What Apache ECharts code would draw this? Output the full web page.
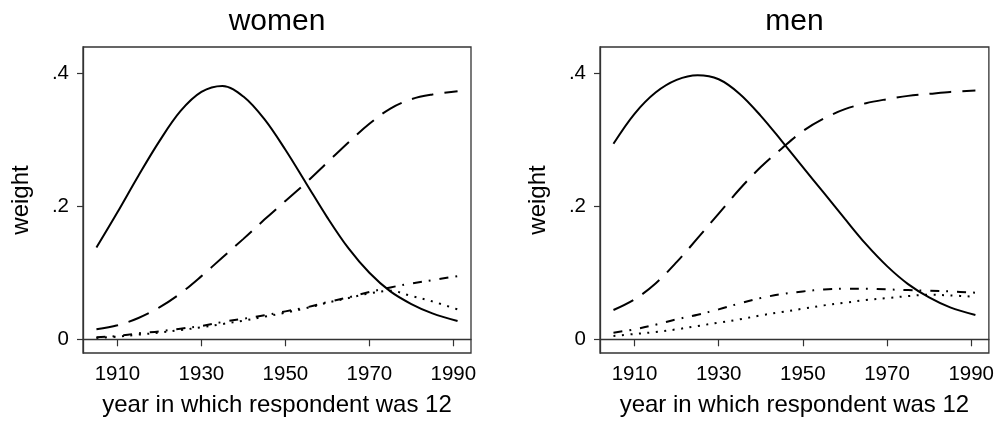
<!DOCTYPE html>
<html>
<head>
<meta charset="utf-8">
<script src="https://cdn.jsdelivr.net/npm/echarts@6/dist/echarts.min.js"></script>
<style>
  html, body { margin: 0; padding: 0; background: #fff; }
  #chart { width: 997px; height: 423px; }
</style>
</head>
<body>
<div id="chart"></div>
<script>
// year in which respondent was 12
var years = [1905, 1910, 1915, 1920, 1925, 1930, 1935, 1940, 1945, 1950, 1955, 1960, 1965, 1970, 1975, 1980, 1985, 1991]
var xTicks = [1910, 1930, 1950, 1970, 1990]
var yTicks = [0, 0.2, 0.4]
var panelTitles = ['women', 'men']

// women
var womenSolid = [0.138, 0.191, 0.246, 0.298, 0.343, 0.372, 0.381, 0.365, 0.331, 0.285, 0.234, 0.183, 0.137, 0.100, 0.072, 0.053, 0.039, 0.0275]
var womenDash = [0.015, 0.021, 0.032, 0.048, 0.069, 0.095, 0.123, 0.151, 0.180, 0.208, 0.236, 0.266, 0.296, 0.324, 0.347, 0.361, 0.368, 0.373]
var womenDashDot = [0.003, 0.005, 0.009, 0.012, 0.016, 0.020, 0.026, 0.031, 0.036, 0.042, 0.048, 0.056, 0.063, 0.071, 0.078, 0.084, 0.089, 0.095]
var womenDot = [0.002, 0.004, 0.007, 0.010, 0.014, 0.018, 0.023, 0.028, 0.034, 0.040, 0.047, 0.055, 0.062, 0.069, 0.073, 0.065, 0.057, 0.045]

// men
var menSolid = [0.294, 0.339, 0.371, 0.390, 0.397, 0.391, 0.369, 0.336, 0.298, 0.259, 0.220, 0.181, 0.143, 0.110, 0.083, 0.063, 0.048, 0.0365]
var menDash = [0.044, 0.060, 0.084, 0.116, 0.152, 0.189, 0.226, 0.259, 0.287, 0.313, 0.332, 0.346, 0.355, 0.361, 0.366, 0.369, 0.372, 0.374]
var menDashDot = [0.010, 0.015, 0.022, 0.030, 0.037, 0.045, 0.054, 0.062, 0.068, 0.072, 0.075, 0.076, 0.076, 0.075, 0.074, 0.073, 0.072, 0.070]
var menDot = [0.005, 0.008, 0.011, 0.015, 0.020, 0.025, 0.030, 0.036, 0.041, 0.046, 0.051, 0.055, 0.059, 0.062, 0.065, 0.067, 0.066, 0.064]

var font = '"Liberation Sans", Arial, sans-serif'
var boxColor = '#333'

function pairs(vals) {
  return years.map(function (y, i) { return [y, vals[i]] })
}

// one series per line; dash patterns
function line(idx, vals, dash) {
  return {
    type: 'line',
    xAxisIndex: idx,
    yAxisIndex: idx,
    data: pairs(vals),
    smooth: 0.35,
    showSymbol: false,
    silent: true,
    lineStyle: { color: '#000', width: 2, type: dash }
  }
}

var grids = [
  { left: 83, top: 47, width: 388, height: 306 },
  { left: 600, top: 47, width: 389, height: 306 }
]

var xAxes = grids.map(function (g, i) {
  return {
    type: 'value',
    gridIndex: i,
    min: 1901.8,
    max: 1994.2,
    name: 'year in which respondent was 12',
    nameLocation: 'middle',
    nameGap: 40,
    nameTextStyle: { fontFamily: font, fontSize: 24, color: '#000' },
    axisLine: { show: true, lineStyle: { color: boxColor, width: 1.3 } },
    axisTick: { show: true, customValues: xTicks, length: 7, lineStyle: { color: boxColor, width: 1.2 } },
    axisLabel: {
      customValues: xTicks,
      margin: 11,
      fontFamily: font,
      fontSize: 20.5,
      color: '#000',
      formatter: function (v) { return String(v) }
    },
    splitLine: { show: false }
  }
})

var yAxes = grids.map(function (g, i) {
  return {
    type: 'value',
    gridIndex: i,
    min: -0.0206,
    max: 0.4395,
    name: 'weight',
    nameLocation: 'middle',
    nameGap: 50,
    nameTextStyle: { fontFamily: font, fontSize: 24, color: '#000' },
    axisLine: { show: true, lineStyle: { color: boxColor, width: 1.3 } },
    axisTick: { show: true, customValues: yTicks, length: 6, lineStyle: { color: boxColor, width: 1.2 } },
    axisLabel: {
      customValues: yTicks,
      margin: 14,
      fontFamily: font,
      fontSize: 20.5,
      color: '#000',
      formatter: function (v) { return v === 0 ? '0' : String(Math.round(v * 10) / 10).replace(/^0/, '') }
    },
    splitLine: { show: false }
  }
})

var longDash = [22, 11]
var dashDot = [9, 7, 1.8, 9]
var dotted = [2, 6.5]

var option = {
  backgroundColor: '#fff',
  animation: false,
  grid: grids.map(function (g) {
    return Object.assign({ show: true, borderColor: boxColor, borderWidth: 1.3, backgroundColor: '#fff' }, g)
  }),
  xAxis: xAxes,
  yAxis: yAxes,
  graphic: panelTitles.map(function (t, i) {
    return {
      type: 'text',
      x: grids[i].left + grids[i].width / 2,
      y: 22,
      style: { text: t, font: '30px ' + font, fill: '#000', textAlign: 'center', textVerticalAlign: 'middle' }
    }
  }),
  series: [
    line(0, womenSolid, 'solid'),
    line(0, womenDash, longDash),
    line(0, womenDashDot, dashDot),
    line(0, womenDot, dotted),
    line(1, menSolid, 'solid'),
    line(1, menDash, longDash),
    line(1, menDashDot, dashDot),
    line(1, menDot, dotted)
  ]
}

var chart = echarts.init(document.getElementById('chart'), null, { renderer: 'canvas' })
chart.setOption(option)
</script>
</body>
</html>
